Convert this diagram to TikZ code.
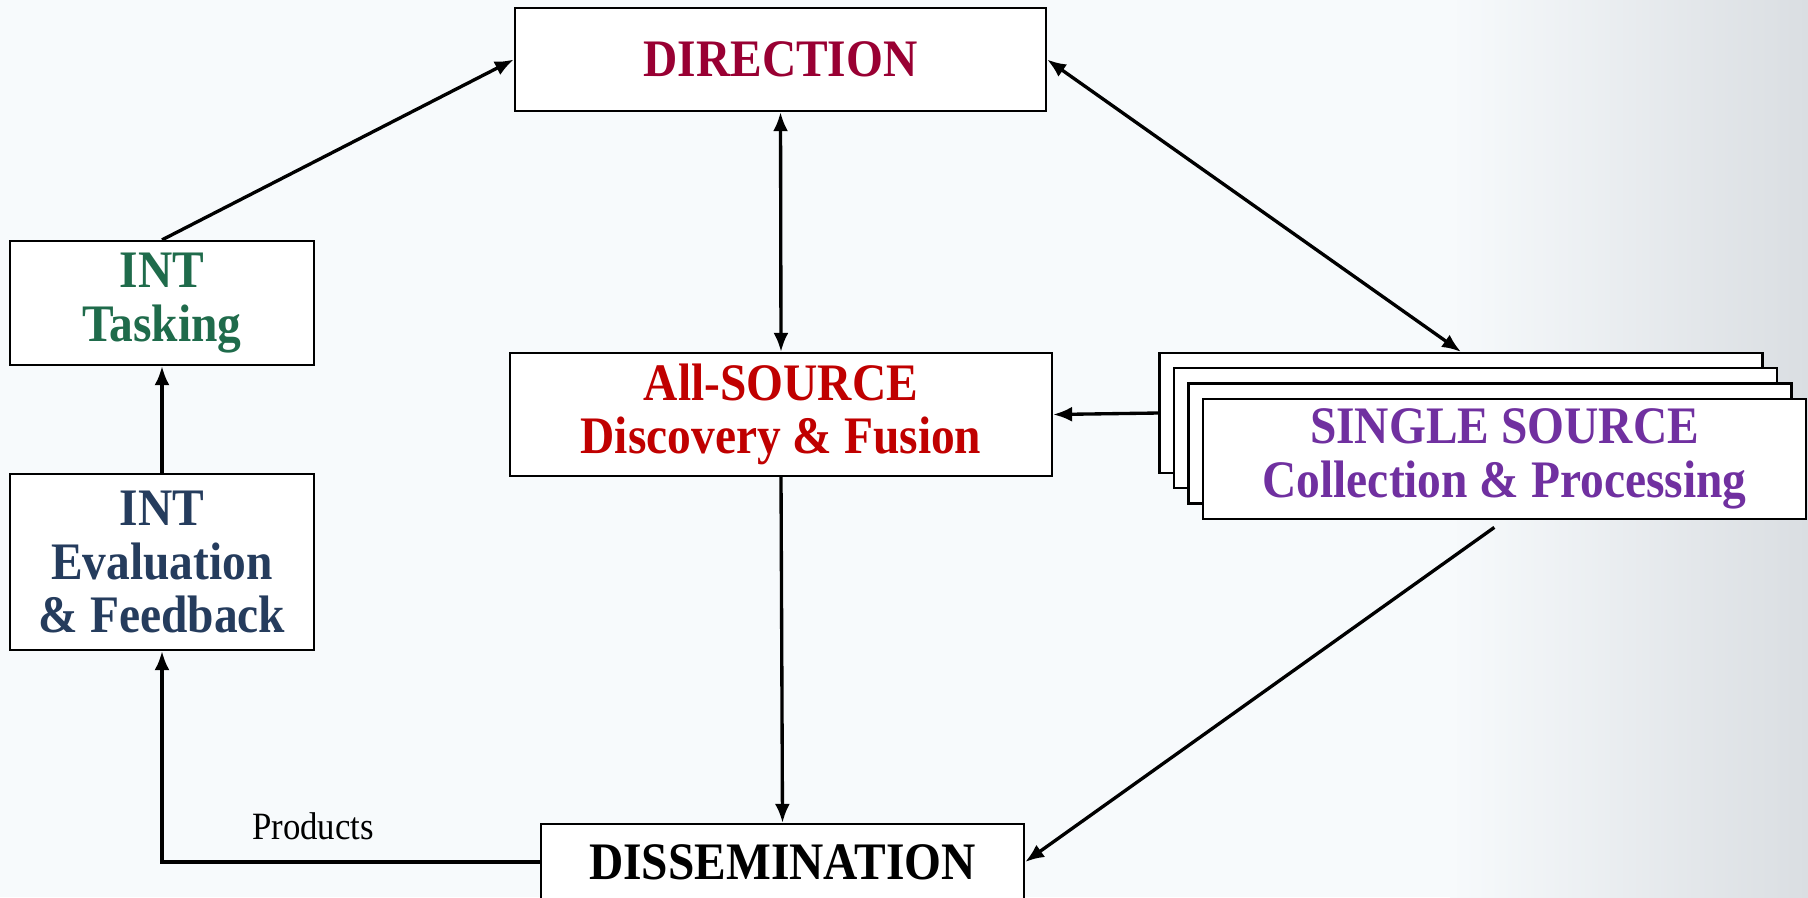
\documentclass[tikz,border=0pt]{standalone}
\usepackage{fontspec}
\setmainfont{Liberation Serif}[FakeStretch=0.9]
\usetikzlibrary{arrows.meta}
\definecolor{bgcol}{HTML}{F7FAFC}
\definecolor{edgecol}{HTML}{DADEE2}
\definecolor{dircol}{HTML}{990033}
\definecolor{taskcol}{HTML}{1F6B4B}
\definecolor{evalcol}{HTML}{253C5D}
\definecolor{allcol}{HTML}{C00000}
\definecolor{singlecol}{HTML}{7030A0}
\begin{document}
\begin{tikzpicture}[x=0.02cm, y=-0.02cm,
    every node/.style={font=\fontsize{30}{30.5}\selectfont\bfseries, align=center},
    box/.style={draw, line width=1.3pt, fill=white, inner sep=0pt},
    link/.style={line width=1.9pt},
    >={Latex[length=0.38cm,width=0.3cm]}]
    \useasboundingbox (0,0) rectangle (1808,897);
    \fill[bgcol] (0,0) rectangle (1808,897);
    \shade[left color=bgcol, right color=edgecol] (1450,0) rectangle (1808,897);
    \node [box, minimum width=10.62cm, minimum height=2.06cm, text=dircol] (dir) at (780.5,59.5) {DIRECTION};
    \node [box, minimum width=6.08cm, minimum height=2.48cm, text=taskcol] (task) at (162,303) {INT\\Tasking};
    \node [box, minimum width=6.08cm, minimum height=3.52cm, text=evalcol] (eval) at (162,562) {INT\\Evaluation\\\& Feedback};
    \node [box, minimum width=10.84cm, minimum height=2.46cm, text=allcol] (all) at (781,414.5) {All-SOURCE\\Discovery \& Fusion};
    \node [box, minimum width=12.06cm, minimum height=2.4cm] (s1) at (1461,413) {};
    \node [box, minimum width=12.06cm, minimum height=2.4cm] (s2) at (1475.5,428.3) {};
    \node [box, minimum width=12.06cm, minimum height=2.4cm] (s3) at (1490,443.6) {};
    \node [box, minimum width=12.06cm, minimum height=2.4cm, text=singlecol] (s4) at (1504.5,459) {SINGLE SOURCE\\Collection \& Processing};
    \node [box, minimum width=9.66cm, minimum height=1.52cm] (dis) at (782.5,862) {DISSEMINATION};
    \node [font=\fontsize{22}{24}\selectfont, anchor=base] (prod) at (313,839) {Products};
    \draw [link, ->] (task.north) -- (dir.west);
    \draw [link, ->] (eval.north) -- (task.south);
    \draw [link, ->] (dis.west) -| (eval.south);
    \draw [link, <->] (dir.south) -- (all.north);
    \draw [link, <->] (dir.east) -- (s1.north);
    \draw [link, ->] (s1.west) -- (all.east);
    \draw [link, ->] (all.south) -- (dis.north);
    \draw [link, ->, shorten <=0.25cm] (s4.south) -- (dis.east);
\end{tikzpicture}
\end{document}
